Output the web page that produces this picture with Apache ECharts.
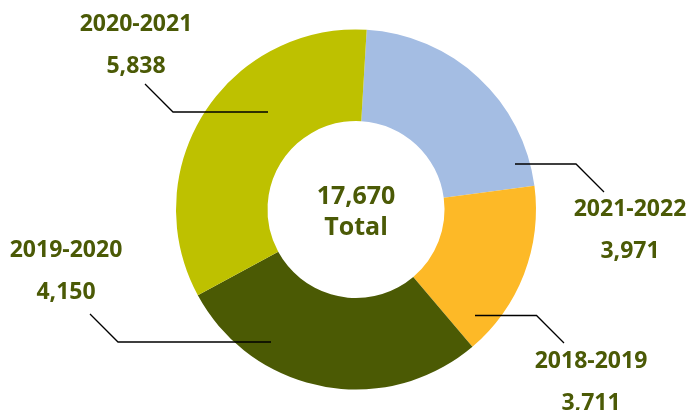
<!DOCTYPE html>
<html>
<head>
<meta charset="UTF-8">
<title>Donut</title>
<script type="text/javascript" src="https://cdn.jsdelivr.net/npm/echarts@6/dist/echarts.min.js"></script>
<style>
	html, body { margin: 0; padding: 0; background: #fff; }
	#myEchart1 { width: 688px; height: 410px; }
</style>
</head>
<body>
<div id="myEchart1"></div>
<script type="text/javascript">
//데이터 (시계방향, 위에서 시작)
var categories = ["2021-2022", "2018-2019", "2019-2020", "2020-2021"];
//라벨에 표시된 값
var labelValues = [3971, 3711, 4150, 5838];
//그림에 그려진 조각 크기 (라벨 값과 다름)
var arcValues = [3878, 2812, 4997, 5983];
var totalText = "17,670";
var sliceColors = ["#a4bde3", "#fdb927", "#4b5a04", "#bec100"];

//라벨 위치 (이름/값 중심)
var labelPos = [[630, 230], [591, 382], [66, 271.5], [136, 45.5]];
//지시선
var linePts = [
	[[515, 164], [576, 164], [604, 192]],
	[[475, 315.5], [536.5, 315.5], [564, 343]],
	[[271, 342], [118, 342], [90, 314]],
	[[268, 112], [173, 112], [145, 84]]
];

var textColor = "#4b5a06";

document.addEventListener("DOMContentLoaded", function(){
	var myEchart1 = echarts.init(document.getElementById("myEchart1"));

	var data = [];
	for (var i = 0; i < categories.length; i++) {
		data.push({
			name: categories[i],
			value: arcValues[i],
			itemStyle: { color: sliceColors[i] }
		});
	}

	//가운데 텍스트
	var graphics = [{
		type: "text",
		x: 356,
		y: 212,
		z: 100,
		style: {
			text: totalText + "\nTotal",
			fill: textColor,
			font: "bold 25px 'Open Sans'",
			lineHeight: 31,
			textAlign: "center",
			textVerticalAlign: "middle"
		}
	}];
	//지시선 (조각 위에 그림)
	for (var j = 0; j < linePts.length; j++) {
		graphics.push({
			type: "polyline",
			z: 100,
			shape: { points: linePts[j] },
			style: { stroke: "#000", lineWidth: 1.3, fill: null }
		});
	}

	var option = {
		animation: false,
		graphic: graphics,
		series: [{
			type: "pie",
			center: [356, 209.5],
			radius: [88.5, 180],
			startAngle: 86.6,
			clockwise: true,
			avoidLabelOverlap: false,
			emphasis: { disabled: true },
			itemStyle: { borderWidth: 0 },
			label: {
				show: true,
				position: "outside",
				formatter: function(p){
					return "{a|" + p.name + "}\n{b|" + labelValues[p.dataIndex].toLocaleString("en-US") + "}";
				},
				rich: {
					a: { color: textColor, fontFamily: "Open Sans", fontWeight: "bold", fontSize: 23, lineHeight: 42 },
					b: { color: textColor, fontFamily: "Open Sans", fontWeight: "bold", fontSize: 23, lineHeight: 42 }
				}
			},
			labelLine: { show: false },
			labelLayout: function(params){
				var i = params.dataIndex;
				return {
					x: labelPos[i][0],
					y: labelPos[i][1],
					align: "center",
					verticalAlign: "middle"
				};
			},
			data: data
		}]
	};

	myEchart1.setOption(option, true);
});
</script>
</body>
</html>
